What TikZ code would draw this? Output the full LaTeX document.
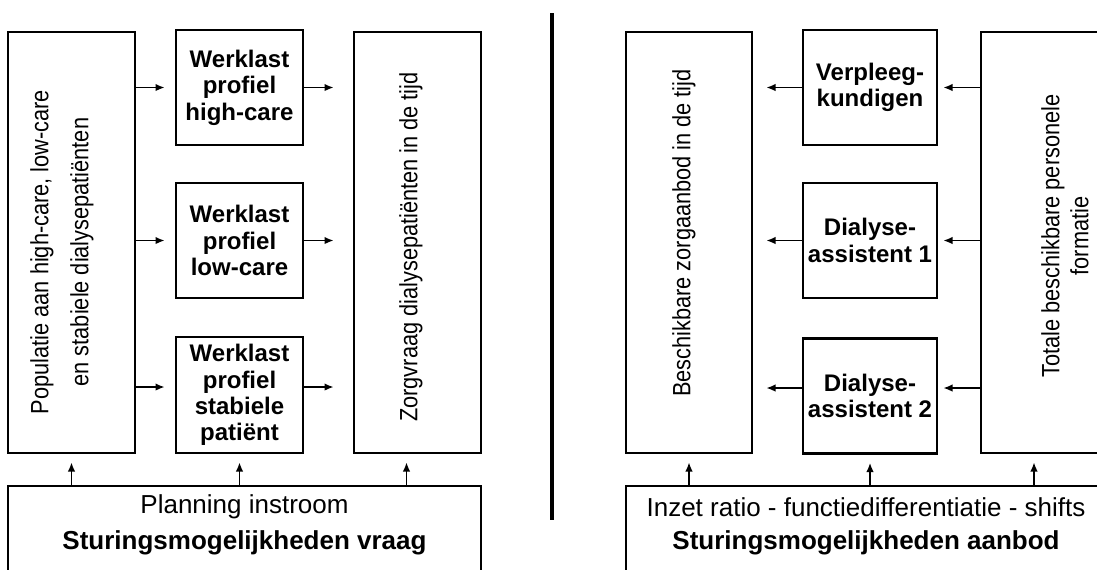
\documentclass[tikz,border=0pt]{standalone}
\usepackage{fontspec}
\setmainfont{Liberation Sans}
\newfontfamily\narrowsans[FakeStretch=0.87]{Liberation Sans}
\usetikzlibrary{arrows.meta}

\begin{document}
\begin{tikzpicture}[x=0.5pt, y=-0.5pt,
	box/.style={draw, line width=1.3pt, inner sep=2pt, align=center},
	smallbox/.style={box, minimum width=63.5pt, minimum height=57.5pt, font=\bfseries\fontsize{12}{13.2}\selectfont},
	tallbox/.style={box, minimum width=63.5pt, minimum height=210.5pt},
	vtext/.style={rotate=90, align=center, font=\narrowsans\fontsize{12.5}{20}\selectfont},
	arr/.style={line width=0.9pt, -{Latex[length=4.6pt,width=3.8pt]}}]
	\useasboundingbox (0,0) rectangle (1097,569);
	\clip (0,0) rectangle (1097,569);
	% vraag
	\node[tallbox] (pop) at (71.5,242.5) {};
	\node[vtext] (poptxt) at (62,252) {Populatie aan high-care, low-care\\en stabiele dialysepatiënten};
	\node[smallbox] (wk1) at (239.5,87.5) {Werklast\\profiel\\high-care};
	\node[smallbox] (wk2) at (239.5,240.5) {Werklast\\profiel\\low-care};
	\node[smallbox, minimum height=58pt] (wk3) at (239.5,395) {Werklast\\profiel\\stabiele\\patiënt};
	\node[tallbox] (zorg) at (417.5,242.5) {};
	\node[vtext] (zorgtxt) at (411,247) {Zorgvraag dialysepatiënten in de tijd};
	\node[box, minimum width=236.5pt, minimum height=52pt] (vraag) at (244.5,538) {};
	\node[font=\fontsize{13}{15}\selectfont] (planning) at (244.5,507) {Planning instroom};
	\node[font=\bfseries\fontsize{13}{15}\selectfont] (vraagtxt) at (244.5,543) {Sturingsmogelijkheden vraag};
	% aanbod
	\node[tallbox, minimum width=63pt] (besch) at (689,242.5) {};
	\node[vtext] (beschtxt) at (684,233) {Beschikbare zorgaanbod in de tijd};
	\node[smallbox, minimum width=67pt] (vp) at (870,87.5) {Verpleeg-\\kundigen};
	\node[smallbox, minimum width=67pt] (da1) at (870,240.5) {Dialyse-\\assistent 1};
	\node[smallbox, minimum width=67pt] (da2) at (870,396) {Dialyse-\\assistent 2};
	\node[tallbox, minimum width=64.5pt] (tot) at (1045.5,242.5) {};
	\node[vtext, font=\narrowsans\fontsize{12.5}{14.5}\selectfont] (tottxt) at (1065,236) {Totale beschikbare personele\\formatie};
	\node[box, minimum width=240pt, minimum height=52pt] (aanbod) at (866,538) {};
	\node[font=\fontsize{13}{15}\selectfont] (inzet) at (866,507) {Inzet ratio - functiedifferentiatie - shifts};
	\node[font=\bfseries\fontsize{13}{15}\selectfont] (aanbodtxt) at (866,543) {Sturingsmogelijkheden aanbod};
	\coordinate (divtop) at (552,13);
	\coordinate (divbot) at (552,520);
	\draw[line width=2pt] (divtop) -- (divbot);
	\coordinate (wk3in) at ([yshift=4pt]wk3.west);
	\coordinate (da2in) at ([yshift=4pt]da2.east);
	\coordinate (zorgin) at ([xshift=-5.5pt]zorg.south);
	\coordinate (totin) at ([xshift=-5.75pt]tot.south);
	\draw[arr, shorten >=5pt] (pop.east |- wk1) -- (wk1.west);
	\draw[arr, shorten >=5pt] (pop.east |- wk2) -- (wk2.west);
	\draw[arr, shorten >=5pt] (pop.east |- wk3in) -- (wk3in);
	\draw[arr, shorten >=9.5pt] (wk1.east) -- (zorg.west |- wk1);
	\draw[arr, shorten >=9.5pt] (wk2.east) -- (zorg.west |- wk2);
	\draw[arr, shorten >=9.5pt] (wk3in -| wk3.east) -- (zorg.west |- wk3in);
	\draw[arr, shorten >=2.5pt] (tot.west |- vp) -- (vp.east);
	\draw[arr, shorten >=2.5pt] (tot.west |- da1) -- (da1.east);
	\draw[arr, shorten >=2.5pt] (tot.west |- da2in) -- (da2in);
	\draw[arr, shorten >=6.5pt] (vp.west) -- (besch.east |- vp);
	\draw[arr, shorten >=6.5pt] (da1.west) -- (besch.east |- da1);
	\draw[arr, shorten >=6.5pt] (da2in -| da2.west) -- (besch.east |- da2in);
	\draw[arr, shorten >=4pt] (vraag.north -| pop) -- (pop.south);
	\draw[arr, shorten >=4pt] (vraag.north -| wk3) -- (wk3.south);
	\draw[arr, shorten >=4pt] (vraag.north -| zorgin) -- (zorgin);
	\draw[arr, shorten >=4pt] (aanbod.north -| besch) -- (besch.south);
	\draw[arr, shorten >=4pt] (aanbod.north -| da2) -- (da2.south);
	\draw[arr, shorten >=4pt] (aanbod.north -| totin) -- (totin);
\end{tikzpicture}
\end{document}
